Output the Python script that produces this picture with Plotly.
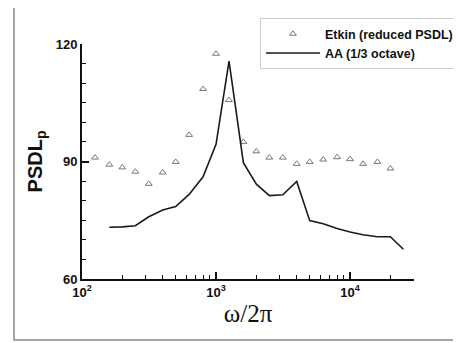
import numpy as np
import plotly.graph_objects as go

# 1/3-octave band centre frequencies
etkin_f = [125, 160, 200, 250, 315, 400, 500, 630, 800, 1000, 1250, 1600, 2000,
           2500, 3150, 4000, 5000, 6300, 8000, 10000, 12500, 16000, 20000]
etkin_psdl = [91.0, 89.2, 88.5, 87.4, 84.3, 87.2, 89.9, 96.8, 108.5, 117.5, 105.7,
              95.0, 92.6, 91.0, 91.0, 89.4, 89.9, 90.5, 91.1, 90.6, 89.4, 89.9, 88.2]

aa_f = [160, 200, 250, 315, 400, 500, 630, 800, 1000, 1250, 1600, 2000, 2500,
        3150, 4000, 5000, 6300, 8000, 10000, 12500, 16000, 20000, 25000]
aa_psdl = [73.2, 73.3, 73.6, 75.9, 77.6, 78.5, 81.6, 86.1, 94.4, 115.6, 89.7, 84.2,
           81.3, 81.5, 84.9, 74.9, 74.1, 72.9, 72.0, 71.3, 70.8, 70.8, 67.6]

x_major = [100, 1000, 10000]
x_major_text = ["10<sup>2</sup>", "10<sup>3</sup>", "10<sup>4</sup>"]
x_minor = [m * d for d in (100, 1000, 10000) for m in range(2, 10) if m * d <= 30000]
y_major = [60, 90, 120]

fig = go.Figure()
fig.add_trace(go.Scatter(
    x=etkin_f, y=etkin_psdl, mode="markers", name="Etkin (reduced PSDL)",
    marker=dict(symbol="triangle-up-open", size=6, color="#777777",
                line=dict(width=1, color="#777777")),
))
fig.add_trace(go.Scatter(
    x=aa_f, y=aa_psdl, mode="lines", name="AA (1/3 octave)",
    line=dict(color="#1a1a1a", width=1.6),
))

# page has an 8px body margin, so the figure is 8px smaller and shifted
fig.update_layout(
    width=453, height=335,
    margin=dict(l=74, r=47, t=36, b=64, autoexpand=False),
    paper_bgcolor="white", plot_bgcolor="white",
    font=dict(family="Liberation Sans, Arial, sans-serif", color="#111111"),
    showlegend=True,
    legend=dict(
        x=0.536, y=1.11, xanchor="left", yanchor="top",
        bgcolor="white", bordercolor="#cccccc", borderwidth=1,
        font=dict(size=12.5, weight="bold", color="#111111"),
        itemwidth=54, tracegroupgap=0,
    ),
    xaxis=dict(
        type="log", range=[2, np.log10(30000)], automargin=False,
        showgrid=False, zeroline=False,
        showline=True, linecolor="#111111", linewidth=2, mirror=False,
        tickvals=x_major, ticktext=x_major_text,
        ticks="inside", ticklen=7, tickwidth=1.5, tickcolor="#111111",
        tickfont=dict(size=13, weight="bold"),
        minor=dict(tickvals=x_minor, ticks="inside", ticklen=4, tickwidth=1,
                   tickcolor="#111111", showgrid=False),
        title=dict(text="ω/2π", font=dict(family="Liberation Serif, Times New Roman, serif",
                                          size=25, color="#111111"), standoff=6),
    ),
    yaxis=dict(
        range=[60, 120], automargin=False,
        showgrid=False, zeroline=False,
        showline=True, linecolor="#111111", linewidth=2, mirror=False,
        tickvals=y_major,
        ticks="inside", ticklen=7, tickwidth=1.5, tickcolor="#111111",
        tickfont=dict(size=13, weight="bold"),
        minor=dict(dtick=5, ticks="inside", ticklen=4, tickwidth=1,
                   tickcolor="#111111", showgrid=False),
        title=dict(text="PSDL<sub>p</sub>", font=dict(size=20, weight="bold", color="#111111"),
                   standoff=8),
    ),
    shapes=[dict(type="rect", xref="paper", yref="paper",
                 x0=-0.2048, x1=1.1355, y0=-0.2596, y1=1.1745,
                 line=dict(color="#888888", width=1.5), fillcolor="rgba(0,0,0,0)",
                 layer="below")],
)

fig.write_html("out.html")
